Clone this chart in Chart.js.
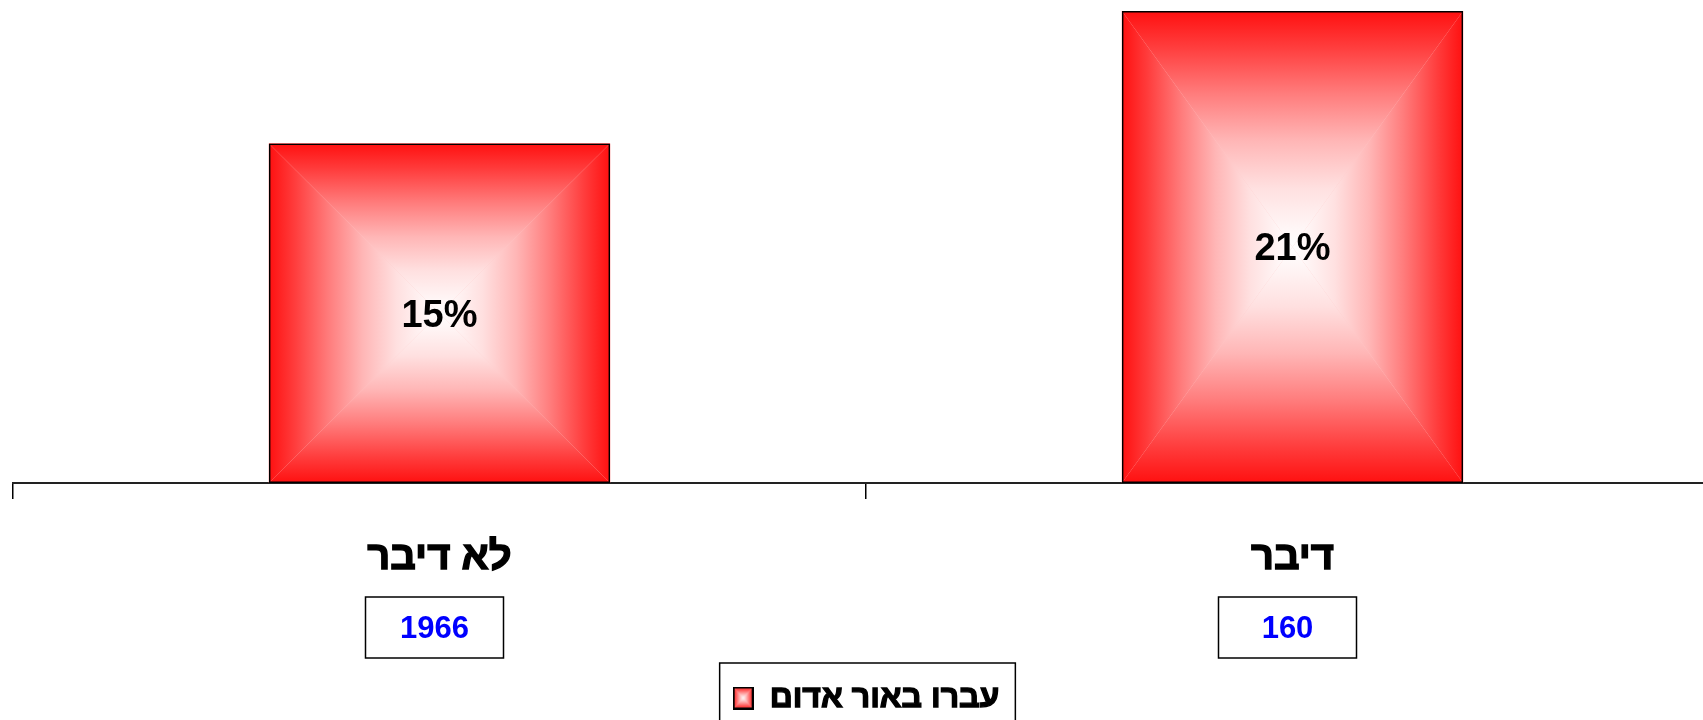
<!DOCTYPE html>
<html>
<head>
<meta charset="utf-8">
<script src="https://cdn.jsdelivr.net/npm/chart.js@4/dist/chart.umd.min.js"></script>
<style>
  html, body { margin: 0; padding: 0; background: #fff; overflow: hidden; }
  #wrap { width: 1703px; height: 720px; overflow: hidden; }
</style>
</head>
<body>
<div id="wrap"><canvas id="myChart" width="1720" height="724"></canvas></div>
<script>
var categories = ['לא דיבר', 'דיבר'];
var percentRed = [15.1, 21.0];
var counts = [1966, 160];
var seriesLabel = 'עברו באור אדום';

var FONT = '"Liberation Sans", Arial, sans-serif';

// gradient stops: red at the edge, white in the middle
var stops = [[0, '#ff1010'], [0.15, '#ff3c3c'], [0.35, '#ff7c7c'], [0.55, '#ffb6b6'], [0.75, '#ffe0e0'], [0.92, '#fff6f6'], [1, '#ffffff']];
var iconStops = [[0, '#ff1010'], [0.3, '#ff5050'], [0.6, '#ffa0a0'], [1, '#ffffff']];

function pyramid(ctx, L, T, R, B, st) {
    var cx = (L + R) / 2, cy = (T + B) / 2;
    var parts = [
        [[L, T], [R, T], cx, T, cx, cy],
        [[L, B], [R, B], cx, B, cx, cy],
        [[L, T], [L, B], L, cy, cx, cy],
        [[R, T], [R, B], R, cy, cx, cy]
    ];
    ctx.save();
    ctx.fillStyle = '#ffc8c8';
    ctx.fillRect(L, T, R - L, B - T);
    parts.forEach(function(p) {
        var g = ctx.createLinearGradient(p[2], p[3], p[4], p[5]);
        st.forEach(function(s) { g.addColorStop(s[0], s[1]); });
        ctx.beginPath();
        ctx.moveTo(p[0][0], p[0][1]);
        ctx.lineTo(p[1][0], p[1][1]);
        ctx.lineTo(cx, cy);
        ctx.closePath();
        ctx.fillStyle = g;
        ctx.fill();
    });
    ctx.restore();
}

// small legend icon
var icon = document.createElement('canvas');
icon.width = 21;
icon.height = 23;
(function() {
    var c = icon.getContext('2d');
    pyramid(c, 0, 0, 21, 23, iconStops);
    c.strokeStyle = '#000';
    c.lineWidth = 2;
    c.strokeRect(1, 1, 19, 21);
})();

var LEG_SIZE = 32;

var barFill = {
    id: 'barFill',
    beforeDatasetsDraw: function(chart) {
        var ctx = chart.ctx;
        chart.getDatasetMeta(0).data.forEach(function(bar) {
            var p = bar.getProps(['x', 'y', 'base', 'width'], true);
            pyramid(ctx, p.x - p.width / 2, Math.min(p.y, p.base), p.x + p.width / 2, Math.max(p.y, p.base), stops);
        });
    },
    afterDatasetsDraw: function(chart) {
        var ctx = chart.ctx;
        ctx.save();
        ctx.font = 'bold 38px ' + FONT;
        ctx.fillStyle = '#000';
        ctx.textAlign = 'center';
        ctx.textBaseline = 'middle';
        chart.getDatasetMeta(0).data.forEach(function(bar, i) {
            var p = bar.getProps(['x', 'y', 'base'], true);
            ctx.fillText(Math.round(percentRed[i]) + '%', p.x, (p.y + p.base) / 2 + 3);
        });
        ctx.restore();
    },
    afterDraw: function(chart) {
        var ctx = chart.ctx;
        var xs = chart.scales.x;
        ctx.save();
        // count boxes under the category names
        counts.forEach(function(n, i) {
            var cx = xs.getPixelForValue(i) - 5;
            ctx.fillStyle = '#fff';
            ctx.fillRect(cx - 69, 597, 138, 61);
            ctx.strokeStyle = '#000';
            ctx.lineWidth = 1.5;
            ctx.strokeRect(cx - 69, 597, 138, 61);
            ctx.font = 'bold 31px ' + FONT;
            ctx.fillStyle = '#0000ff';
            ctx.textAlign = 'center';
            ctx.textBaseline = 'middle';
            ctx.fillText(String(n), cx, 629);
        });
        // frame around the legend, and a heavier outline on its text
        var hb = chart.legend.legendHitBoxes[0];
        if (hb) {
            ctx.strokeStyle = '#000';
            ctx.lineWidth = 1.5;
            ctx.strokeRect(hb.left - 13, chart.legend.top, hb.width + 29, 62);
            ctx.font = 'bold ' + LEG_SIZE + 'px ' + FONT;
            ctx.textAlign = 'left';
            ctx.textBaseline = 'middle';
            ctx.lineWidth = 1.3;
            ctx.strokeText(seriesLabel, hb.left + 21 + LEG_SIZE / 2, hb.top + LEG_SIZE / 2);
        }
        ctx.restore();
    }
};

var ctx = document.getElementById('myChart').getContext('2d');
var myChart = new Chart(ctx, {
    type: 'bar',
    data: {
        labels: categories,
        datasets: [{
            label: seriesLabel,
            data: percentRed,
            backgroundColor: 'transparent',
            borderColor: '#000',
            borderWidth: 1.5,
            borderSkipped: false,
            barPercentage: 0.4,
            categoryPercentage: 1.0
        }]
    },
    options: {
        responsive: false,
        animation: false,
        layout: {
            padding: { left: 13, right: 1, top: 11, bottom: 0 }
        },
        scales: {
            x: {
                grid: {
                    offset: true,
                    drawOnChartArea: false,
                    drawTicks: true,
                    tickLength: 16,
                    color: '#000',
                    lineWidth: 1.5
                },
                border: { display: true, color: '#222', width: 2 },
                ticks: {
                    color: '#000',
                    padding: 35,
                    textStrokeColor: '#000',
                    textStrokeWidth: 1.4,
                    font: { family: FONT, size: 40, weight: 'bold' }
                },
                afterFit: function(scale) {
                    scale.height = 180;
                }
            },
            y: {
                display: false,
                min: 0,
                max: 21
            }
        },
        plugins: {
            tooltip: { enabled: false },
            legend: {
                position: 'bottom',
                labels: {
                    usePointStyle: true,
                    pointStyle: icon,
                    boxWidth: 21,
                    boxHeight: 21,
                    padding: 19,
                    color: '#000',
                    font: { family: FONT, size: LEG_SIZE, weight: 'bold' }
                }
            }
        }
    },
    plugins: [barFill]
});
</script>
</body>
</html>
